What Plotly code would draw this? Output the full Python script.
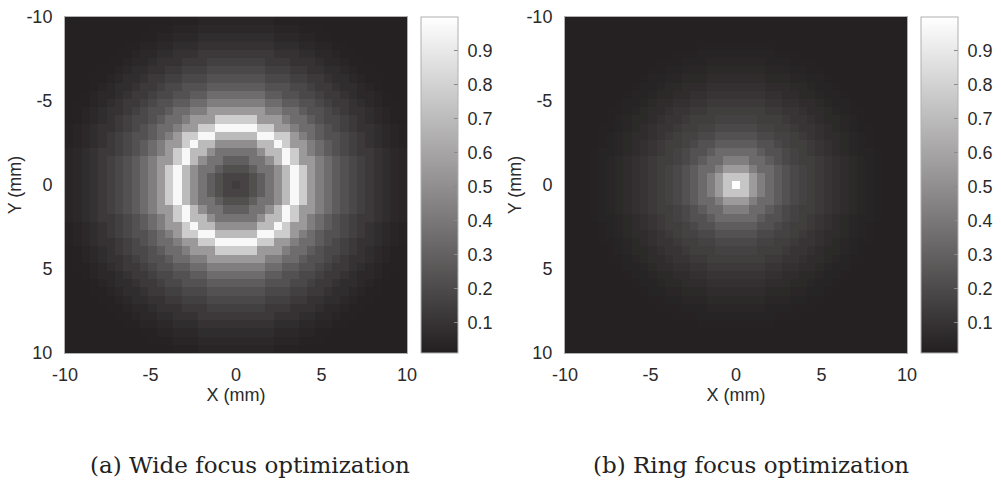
import numpy as np
import plotly.graph_objects as go

# ---------------- data ----------------
# radial intensity profile, indexed by distance from the centre in grid cells (0..28)
radius_cells = list(range(29))
wide_profile = [0.14, 0.17, 0.22, 0.29, 0.38, 0.50, 0.70, 0.97, 0.78, 0.55, 0.43,
                0.35, 0.28, 0.23, 0.19, 0.155, 0.125, 0.095, 0.07, 0.05, 0.035,
                0.025, 0.02, 0.02, 0.02, 0.02, 0.02, 0.02, 0.02]
ring_profile = [1.00, 0.75, 0.56, 0.43, 0.34, 0.28, 0.23, 0.19, 0.165, 0.145, 0.125,
                0.105, 0.085, 0.068, 0.052, 0.04, 0.03, 0.022, 0.02, 0.02, 0.02,
                0.02, 0.02, 0.02, 0.02, 0.02, 0.02, 0.02, 0.02]
n_cells = 41
axis_ticks = [-10, -5, 0, 5, 10]
cbar_ticks = [0.1, 0.2, 0.3, 0.4, 0.5, 0.6, 0.7, 0.8, 0.9]
captions = ["(a) Wide focus optimization", "(b) Ring focus optimization"]

# ---------------- grid ----------------
edges = np.linspace(-10, 10, n_cells + 1)
idx = np.arange(n_cells) - n_cells // 2
II, JJ = np.meshgrid(idx, idx)
rbin = np.minimum(np.rint(np.hypot(II, JJ)).astype(int), len(radius_cells) - 1)
z_wide = np.array(wide_profile)[rbin]
z_ring = np.array(ring_profile)[rbin]

W, H = 1001, 483
def px(x):
    return x / W
def py(y):
    return 1 - y / H

top, bot = 17, 353
panels = [(65, 407, 421, 250), (565, 907, 921, 751)]
gray = [[0, "#231f20"], [1, "#ffffff"]]
tickfont = dict(family="Liberation Sans, Arial, sans-serif", size=18, color="#2a2a2a")

fig = go.Figure()
for k, (z, (x0, x1, cbx, capx)) in enumerate(zip([z_wide, z_ring], panels)):
    xa = "x" if k == 0 else "x2"
    ya = "y" if k == 0 else "y2"
    fig.add_trace(go.Heatmap(
        z=z, x=edges, y=edges, xaxis=xa, yaxis=ya,
        colorscale=gray, zmin=0.01, zmax=1.0, showscale=True,
        colorbar=dict(
            x=px(cbx), xanchor="left", y=py(top), yanchor="top",
            lenmode="pixels", len=bot - top, thickness=37, thicknessmode="pixels",
            outlinewidth=1, outlinecolor="#b0b0b0",
            tickvals=cbar_ticks, ticktext=["\u00a0" + str(v) for v in cbar_ticks],
            ticks="inside", ticklen=4, tickcolor="#888888",
            tickfont=tickfont, xpad=0, ypad=0,
        ),
        hoverinfo="skip",
    ))
    axx = dict(domain=[px(x0), px(x1)], range=[-10, 10], tickvals=axis_ticks,
               ticktext=[str(t) for t in axis_ticks], ticks="outside", ticklen=5,
               tickcolor="rgba(0,0,0,0)", tickfont=tickfont, showgrid=False,
               zeroline=False, showline=True, linecolor="#b0b0b0", linewidth=1, mirror=True,
               title=dict(text="X (mm)", font=tickfont, standoff=4),
               automargin=False, anchor=ya)
    axy = dict(domain=[py(bot), py(top)], range=[10, -10], tickvals=axis_ticks,
               ticktext=[str(t) for t in axis_ticks], ticks="outside", ticklen=8,
               tickcolor="rgba(0,0,0,0)", tickfont=tickfont, showgrid=False,
               zeroline=False, showline=True, linecolor="#b0b0b0", linewidth=1, mirror=True,
               title=dict(text="Y (mm)", font=tickfont, standoff=0),
               automargin=False, anchor=xa)
    if k == 0:
        fig.update_layout(xaxis=axx, yaxis=axy)
    else:
        fig.update_layout(xaxis2=axx, yaxis2=axy)
    fig.add_annotation(text=captions[k], x=px(capx), y=py(465),
                       xref="paper", yref="paper", xanchor="center", yanchor="middle",
                       showarrow=False,
                       font=dict(family="DejaVu Serif, serif", size=23, color="#222222"))

fig.update_layout(width=W, height=H, margin=dict(l=0, r=0, t=0, b=0),
                  paper_bgcolor="white", plot_bgcolor="white")
fig.write_html("out.html")
